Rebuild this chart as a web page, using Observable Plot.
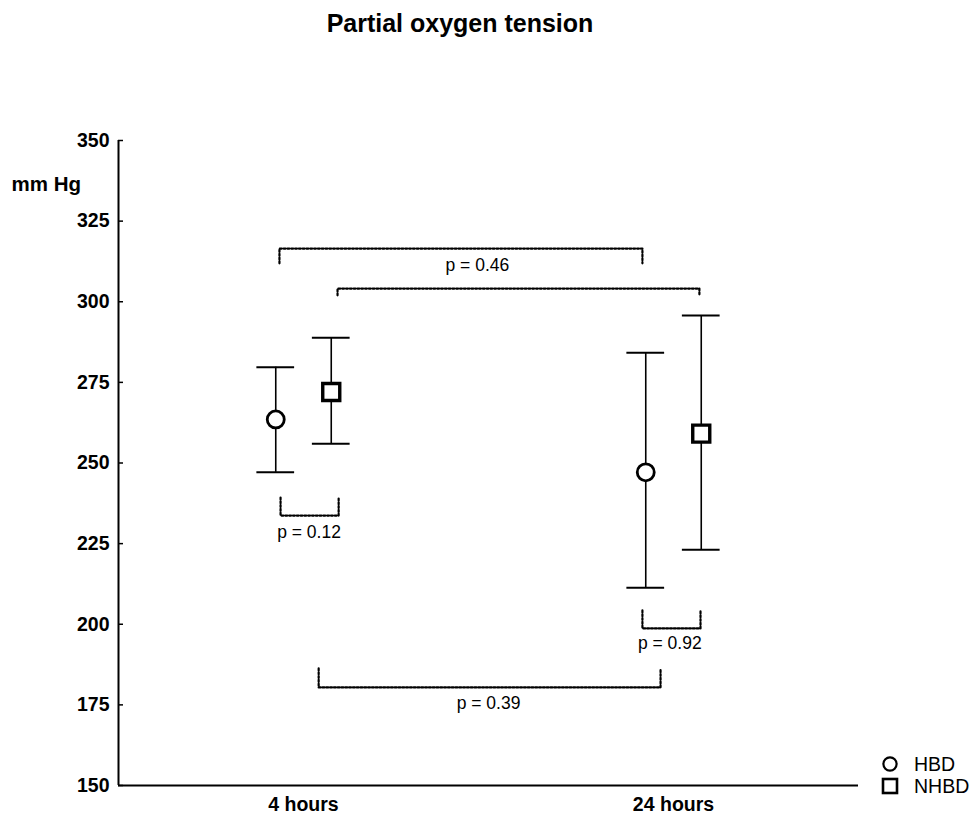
<!DOCTYPE html>
<html><head><meta charset="utf-8">
<script src="https://cdn.jsdelivr.net/npm/d3@7"></script>
<script src="https://cdn.jsdelivr.net/npm/@observablehq/plot@0.6"></script>
<style>
body{margin:0;background:#fff;font-family:"Liberation Sans",Arial,Helvetica,sans-serif;}
#wrap{position:relative;width:979px;height:820px;}
#title{position:absolute;left:0;width:920px;top:11px;line-height:25px;text-align:center;font-weight:bold;font-size:25px;color:#000;}
#legend{position:absolute;left:881px;top:753px;font-size:19.5px;color:#000;}
#legend div{display:flex;align-items:center;height:22px;}
#legend svg{margin-right:15px;}
</style></head>
<body><div id="wrap"><div id="title">Partial oxygen tension</div>
<div id="legend">
<div><svg width="18" height="18"><circle cx="9" cy="9" r="6.6" fill="#fff" stroke="#000" stroke-width="2.2"/></svg>HBD</div>
<div><svg width="18" height="18"><rect x="2" y="2" width="14" height="14" fill="#fff" stroke="#000" stroke-width="2.6"/></svg>NHBD</div>
</div></div>
<script>
// Categories & series
const times = ["4 hours", "24 hours"];
const groups = ["HBD", "NHBD"];
const hbdMean = [263.5, 247.1];
const hbdLow = [247.1, 211.3];
const hbdHigh = [279.7, 284.2];
const nhbdMean = [272.0, 259.1];
const nhbdLow = [256.0, 223.1];
const nhbdHigh = [288.8, 295.7];
const yTicks = [150, 175, 200, 225, 250, 275, 300, 325, 350];

// significance brackets: x in axis units (1 = 4 hours, 2 = 24 hours)
const bracketLabels = ["p = 0.46", "", "p = 0.12", "p = 0.92", "p = 0.39"];
const bracketX1 = [0.935, 1.092, 0.938, 1.916, 1.041];
const bracketX2 = [1.916, 2.070, 1.095, 2.073, 1.965];
const bracketBar = [316.5, 304.1, 233.7, 198.7, 180.4];
const bracketEnd = [311.9, 302.0, 239.3, 204.3, 186.3];
const labelX = [1.47, null, 1.015, 1.99, 1.5];
const labelY = [311.2, null, 228.4, 194.0, 175.4];

const offset = {HBD: -0.075, NHBD: 0.075};
const rows = [];
times.forEach((t, i) => {
  rows.push({time: t, group: "HBD", x: i + 1 + offset.HBD, mean: hbdMean[i], low: hbdLow[i], high: hbdHigh[i]});
  rows.push({time: t, group: "NHBD", x: i + 1 + offset.NHBD, mean: nhbdMean[i], low: nhbdLow[i], high: nhbdHigh[i]});
});
const caps = rows.flatMap(d => [{x: d.x, y: d.low}, {x: d.x, y: d.high}]);
const capHalf = 0.051;

const bracketPts = [];
bracketX1.forEach((x1, i) => {
  const x2 = bracketX2[i];
  bracketPts.push({id: i, x: x1, y: bracketEnd[i]}, {id: i, x: x1, y: bracketBar[i]},
                  {id: i, x: x2, y: bracketBar[i]}, {id: i, x: x2, y: bracketEnd[i]});
});
const pLabels = bracketLabels.map((t, i) => ({t, x: labelX[i], y: labelY[i]})).filter(d => d.t);

const chart = Plot.plot({
  width: 979, height: 820,
  marginLeft: 118, marginRight: 121, marginTop: 140, marginBottom: 35,
  style: {fontFamily: '"Liberation Sans", Arial, sans-serif', color: "#000", background: "#fff"},
  x: {domain: [0.5, 2.5]},
  y: {domain: [150, 350]},
  marks: [
    Plot.axisY({ticks: yTicks, tickSize: -5, tickPadding: 14, fontSize: 19.5, fontWeight: "bold", strokeWidth: 1.5, label: null}),
    Plot.axisX({ticks: [1, 2], tickFormat: d => times[d - 1], tickSize: 0, tickPadding: 12, fontSize: 19.5, fontWeight: "bold", label: null}),
    Plot.ruleX([0.5], {strokeWidth: 2}),
    Plot.ruleY([150], {strokeWidth: 2}),
    Plot.text(["mm Hg"], {frameAnchor: "top-left", dx: -107, dy: 36, textAnchor: "start", fontSize: 20.5, fontWeight: "bold"}),
    Plot.line(bracketPts, {x: "x", y: "y", z: "id", stroke: "#000", strokeWidth: 2.2, strokeDasharray: "2,1.8", curve: "linear"}),
    Plot.text(pLabels, {x: "x", y: "y", text: "t", fontSize: 17.5}),
    Plot.ruleX(rows, {x: "x", y1: "low", y2: "high", strokeWidth: 1.6}),
    Plot.ruleY(caps, {y: "y", x1: d => d.x - capHalf, x2: d => d.x + capHalf, strokeWidth: 2}),
    Plot.dot(rows.filter(d => d.group === "HBD"), {x: "x", y: "mean", symbol: "circle", r: 8.5, fill: "#fff", stroke: "#000", strokeWidth: 2.8}),
    Plot.dot(rows.filter(d => d.group === "NHBD"), {x: "x", y: "mean", symbol: "square", r: 9.6, fill: "#fff", stroke: "#000", strokeWidth: 3.4})
  ]
});
document.getElementById("wrap").prepend(chart);
chart.style.position = "absolute"; chart.style.left = "0"; chart.style.top = "0";
</script>
</body></html>
